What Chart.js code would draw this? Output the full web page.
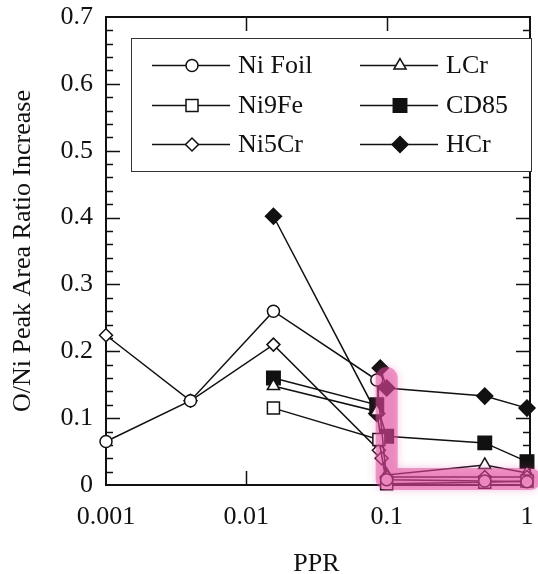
<!DOCTYPE html>
<html>
<head>
<meta charset="utf-8">
<title>O/Ni Peak Area Ratio Increase vs PPR</title>
<script src="https://cdn.jsdelivr.net/npm/chart.js@4.4.1/dist/chart.umd.min.js"></script>
<style>
  html, body { margin: 0; padding: 0; background: #fff; overflow: hidden; }
  #wrap { position: relative; width: 538px; height: 574px; }
  #legend {
    position: absolute; left: 131px; top: 38px; width: 399px; height: 132px;
    border: 1.5px solid #333; background: #fff;
    font-family: 'Liberation Serif', 'Times New Roman', serif; font-size: 26px; color: #111;
  }
  .item { position: absolute; height: 30px; display: flex; align-items: center; white-space: nowrap; }
  .item canvas { margin-right: 6px; }
</style>
</head>
<body>
<div id="wrap">
  <canvas id="pprChart" width="538" height="574"></canvas>
  <div id="legend"></div>
</div>
<script>
// Tick labels
const xTickValues = [0.001, 0.01, 0.1, 1];
const yTickValues = [0, 0.1, 0.2, 0.3, 0.4, 0.5, 0.6, 0.7];

// Series (PPR on x, ratio increase on y)
const niFoilPPR = [0.001, 0.004, 0.0156, 0.085, 0.1, 0.5, 1];
const niFoilRatio = [0.065, 0.126, 0.26, 0.157, 0.008, 0.006, 0.005];

const ni9FePPR = [0.0156, 0.088, 0.1, 0.5, 1];
const ni9FeRatio = [0.115, 0.068, 0.002, 0.004, 0.006];

const ni5CrPPR = [0.001, 0.004, 0.0156, 0.088, 0.092, 0.1, 0.5, 1];
const ni5CrRatio = [0.224, 0.126, 0.21, 0.052, 0.04, 0.012, 0.012, 0.012];

const lCrPPR = [0.0156, 0.085, 0.1, 0.5, 1];
const lCrRatio = [0.148, 0.11, 0.015, 0.03, 0.018];

const cd85PPR = [0.0156, 0.085, 0.1, 0.5, 1];
const cd85Ratio = [0.16, 0.12, 0.073, 0.063, 0.035];

const hCrPPR = [0.0156, 0.085, 0.09, 0.1, 0.5, 1];
const hCrRatio = [0.402, 0.107, 0.175, 0.145, 0.133, 0.115];

// pink marker highlight drawn over the low-ratio region
const highlightPPR = [0.1, 0.1, 1.05];
const highlightRatio = [0.16, 0.009, 0.009];

const seriesNames = ['Ni Foil', 'Ni9Fe', 'Ni5Cr', 'LCr', 'CD85', 'HCr'];

const INK = '#111';
const SERIF = "'Liberation Serif', 'Times New Roman', serif";

function toPoints(xs, ys) {
    return xs.map((x, i) => ({ x: x, y: ys[i] }));
}

function series(label, xs, ys, style, radius, filled) {
    return {
        label: label,
        data: toPoints(xs, ys),
        borderColor: INK,
        borderWidth: 1.5,
        pointStyle: style,
        pointRadius: radius,
        pointHoverRadius: radius,
        pointBorderWidth: 1.5,
        pointBorderColor: INK,
        pointBackgroundColor: filled ? INK : '#fff',
        fill: false,
        tension: 0,
        clip: false,
        order: 1
    };
}

const datasets = [
    series(seriesNames[0], niFoilPPR, niFoilRatio, 'circle', 6, false),
    series(seriesNames[1], ni9FePPR, ni9FeRatio, 'rect', 8.5, false),
    series(seriesNames[2], ni5CrPPR, ni5CrRatio, 'rectRot', 6.5, false),
    series(seriesNames[3], lCrPPR, lCrRatio, 'triangle', 7, false),
    series(seriesNames[4], cd85PPR, cd85Ratio, 'rect', 9.5, true),
    series(seriesNames[5], hCrPPR, hCrRatio, 'rectRot', 8, true),
    {
        label: 'highlight',
        data: toPoints(highlightPPR, highlightRatio),
        borderColor: 'rgba(225, 70, 155, 0.5)',
        borderWidth: 22,
        borderJoinStyle: 'round',
        borderCapStyle: 'round',
        pointRadius: 0,
        fill: false,
        clip: false,
        order: 0
    }
];

// Frame with inward ticks on all four sides
const frameTicks = {
    id: 'frameTicks',
    beforeDatasetsDraw(chart) {
        const { ctx, chartArea: a, scales } = chart;
        const x = scales.x, y = scales.y;
        const rightX = a.right + 3;
        ctx.save();
        ctx.strokeStyle = INK;
        ctx.lineWidth = 2;
        ctx.strokeRect(a.left, a.top, rightX - a.left, a.bottom - a.top);

        ctx.lineWidth = 1.5;
        ctx.beginPath();
        // y: major every 0.1, minor every 0.02
        for (let i = 1; i < 35; i++) {
            const py = Math.round(y.getPixelForValue(i * 0.02)) + 0.5;
            const len = (i % 5 === 0) ? 14 : 7;
            ctx.moveTo(a.left, py);
            ctx.lineTo(a.left + len, py);
            ctx.moveTo(rightX, py);
            ctx.lineTo(rightX - len, py);
        }
        // x: decades only
        xTickValues.slice(1, -1).forEach(v => {
            const px = Math.round(x.getPixelForValue(v)) + 0.5;
            ctx.moveTo(px, a.bottom);
            ctx.lineTo(px, a.bottom - 14);
            ctx.moveTo(px, a.top);
            ctx.lineTo(px, a.top + 14);
        });
        ctx.stroke();
        ctx.restore();
    }
};

// soft edge on the pink highlight stroke
const softHighlight = {
    id: 'softHighlight',
    beforeDatasetDraw(chart, args) {
        if (args.meta.label !== 'highlight') return;
        chart.ctx.save();
        chart.ctx.shadowColor = 'rgba(225, 70, 155, 0.6)';
        chart.ctx.shadowBlur = 8;
    },
    afterDatasetDraw(chart, args) {
        if (args.meta.label !== 'highlight') return;
        chart.ctx.restore();
    }
};

function drawChart() {
    const ctx = document.getElementById('pprChart').getContext('2d');
    return new Chart(ctx, {
        type: 'line',
        data: { datasets: datasets },
        options: {
            responsive: false,
            animation: false,
            events: [],
            layout: { padding: { top: 17, right: 4, bottom: 0, left: 0 } },
            plugins: {
                legend: { display: false },
                tooltip: { enabled: false }
            },
            scales: {
                x: {
                    type: 'logarithmic',
                    min: 0.001,
                    max: 1,
                    grid: { display: false, drawTicks: false },
                    border: { display: false },
                    afterBuildTicks: s => { s.ticks = xTickValues.map(v => ({ value: v })); },
                    afterFit: s => {
                        s.height = 89;
                        // edge labels may overhang the frame, like the original
                        s.paddingLeft = 0;
                        s.paddingRight = 0;
                    },
                    ticks: {
                        autoSkip: false,
                        maxRotation: 0,
                        padding: 17,
                        color: INK,
                        font: { family: SERIF, size: 26 },
                        callback: v => String(v)
                    },
                    title: {
                        display: true,
                        text: 'PPR',
                        color: INK,
                        padding: { top: 0, bottom: -3 },
                        font: { family: SERIF, size: 26, lineHeight: 1 }
                    }
                },
                y: {
                    min: 0,
                    max: 0.7,
                    grid: { display: false, drawTicks: false },
                    border: { display: false },
                    afterBuildTicks: s => { s.ticks = yTickValues.map(v => ({ value: v })); },
                    afterFit: s => {
                        s.width = 106;
                        s.paddingTop = 0;
                        s.paddingBottom = 0;
                    },
                    ticks: {
                        padding: 13,
                        color: INK,
                        font: { family: SERIF, size: 26 },
                        callback: v => v === 0 ? '0' : v.toFixed(1)
                    },
                    title: {
                        display: true,
                        text: 'O/Ni Peak Area Ratio Increase',
                        color: INK,
                        padding: { top: 8, bottom: 0 },
                        font: { family: SERIF, size: 26 }
                    }
                }
            }
        },
        plugins: [frameTicks, softHighlight]
    });
}

// Two-column legend in a framed box, built from the datasets
function buildLegend() {
    const box = document.getElementById('legend');
    const colX = [20, 228];
    const rowY = [11, 51, 90];
    const drawPoint = Chart.helpers && Chart.helpers.drawPoint;
    seriesNames.forEach((name, i) => {
        const ds = datasets[i];
        const item = document.createElement('div');
        item.className = 'item';
        item.style.left = colX[Math.floor(i / 3)] + 'px';
        item.style.top = rowY[i % 3] + 'px';

        const c = document.createElement('canvas');
        c.width = 80; c.height = 30;
        const g = c.getContext('2d');
        g.strokeStyle = INK;
        g.lineWidth = 1.5;
        g.beginPath();
        g.moveTo(0, 15.5);
        g.lineTo(78, 15.5);
        g.stroke();
        if (drawPoint) {
            g.fillStyle = ds.pointBackgroundColor;
            g.strokeStyle = INK;
            g.lineWidth = 1.5;
            drawPoint(g, { pointStyle: ds.pointStyle, radius: ds.pointRadius, rotation: 0, borderWidth: 1.5 }, 40, 15.5);
        }
        item.appendChild(c);

        const label = document.createElement('span');
        label.textContent = name;
        item.appendChild(label);
        box.appendChild(item);
    });
}

// canvas text needs the serif face loaded first
document.fonts.load("26px 'Liberation Serif'")
    .catch(() => null)
    .then(() => {
        drawChart();
        buildLegend();
    });
</script>
</body>
</html>
